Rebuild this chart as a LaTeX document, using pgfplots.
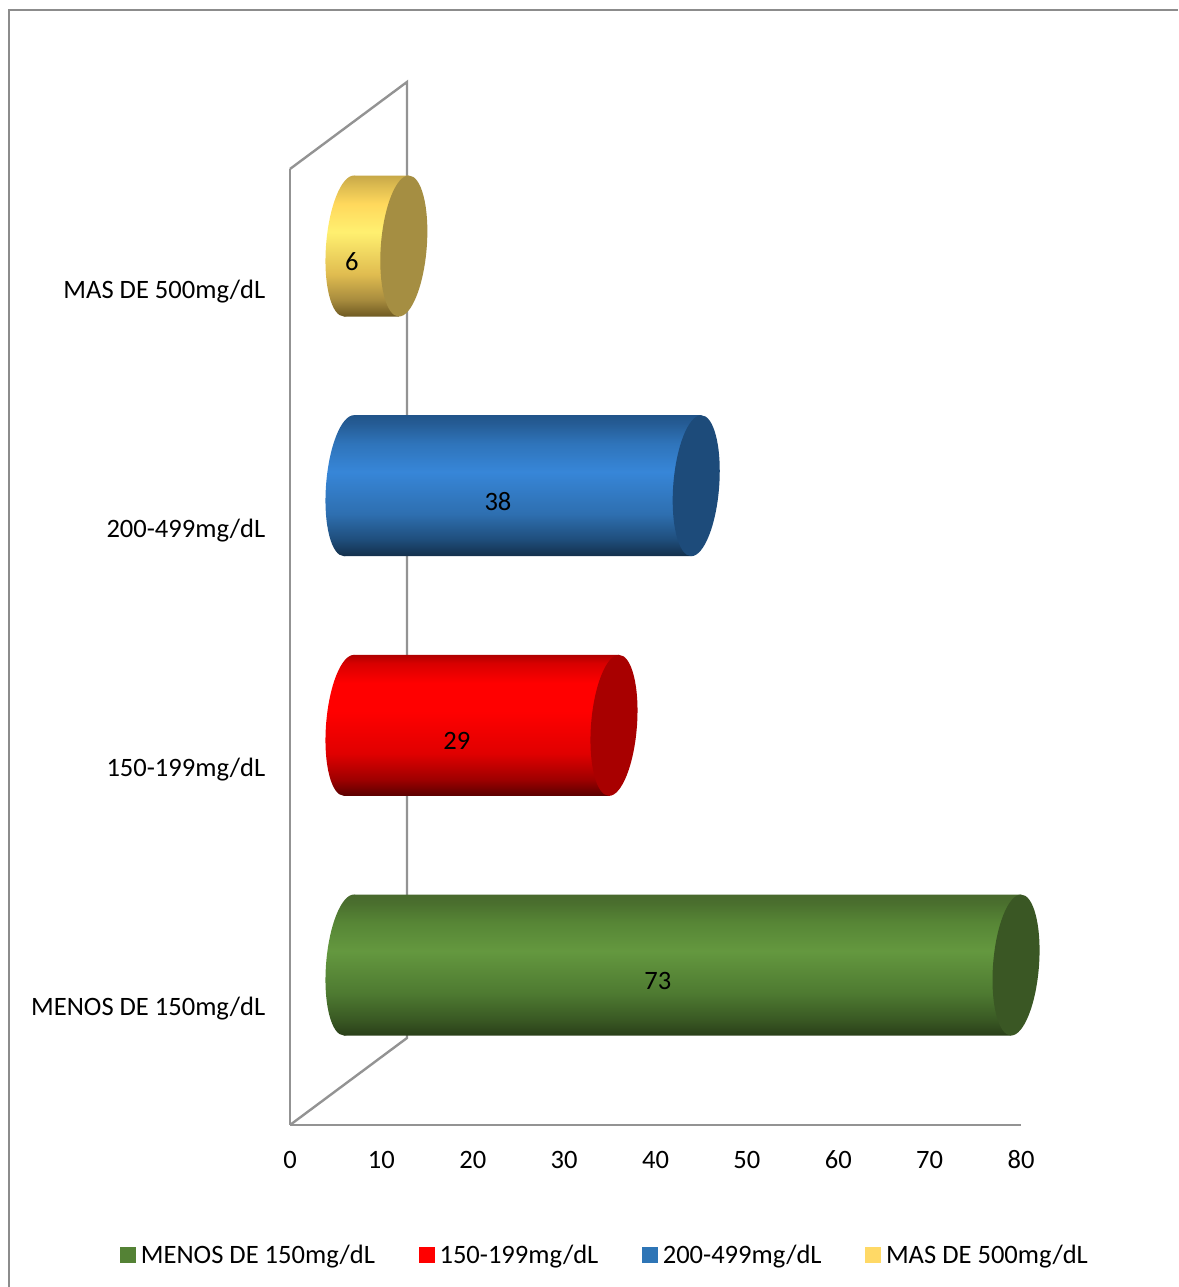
\documentclass[border=0pt]{standalone}
\usepackage{fontspec}
\setmainfont{Carlito}
\usepackage{pgfplots}
\usepackage{pgfplotstable}
\pgfplotsset{compat=1.18}

% Glucose bands: category position, count
\pgfplotstableread{
cat v
0 73
1 29
2 38
3 6
}\glucosedata

\definecolor{wallgray}{HTML}{939393}
\definecolor{framegray}{HTML}{8C8C8C}
\definecolor{capGreen}{HTML}{3A5724}
\definecolor{capRed}{HTML}{A80000}
\definecolor{capBlue}{HTML}{1D4B7A}
\definecolor{capYellow}{HTML}{A58E42}
\definecolor{keyGreen}{HTML}{548235}
\definecolor{keyRed}{HTML}{FF0000}
\definecolor{keyBlue}{HTML}{2E75B6}
\definecolor{keyYellow}{HTML}{FFD966}

\definecolor{gA}{HTML}{2A3F19}\definecolor{gB}{HTML}{3A5A24}\definecolor{gC}{HTML}{4E7A31}
\definecolor{gD}{HTML}{64983F}\definecolor{gE}{HTML}{578636}\definecolor{gF}{HTML}{4A6F2E}\definecolor{gG}{HTML}{48692D}
\definecolor{rA}{HTML}{5A0000}\definecolor{rB}{HTML}{A00000}\definecolor{rC}{HTML}{E00000}
\definecolor{rD}{HTML}{FF0000}\definecolor{rE}{HTML}{FF0000}\definecolor{rF}{HTML}{D80000}\definecolor{rG}{HTML}{B00000}
\definecolor{bA}{HTML}{132F4B}\definecolor{bB}{HTML}{1F4E7C}\definecolor{bC}{HTML}{2E6FB0}
\definecolor{bD}{HTML}{3786D8}\definecolor{bE}{HTML}{2F74BA}\definecolor{bF}{HTML}{255C95}\definecolor{bG}{HTML}{21548A}
\definecolor{yA}{HTML}{6E5A22}\definecolor{yB}{HTML}{A88C3E}\definecolor{yC}{HTML}{E0BC50}
\definecolor{yD}{HTML}{FFF070}\definecolor{yE}{HTML}{FFD85C}\definecolor{yF}{HTML}{D9B84F}\definecolor{yG}{HTML}{C7A848}

% Cylinder side shadings; the stops run from the bottom edge (25bp) to the top edge (75bp)
\newcommand{\declareside}[2]{%
  \pgfdeclareverticalshading{bar#1}{100bp}{
    color(0bp)=(#2A); color(25bp)=(#2A); color(31bp)=(#2B); color(40bp)=(#2C);
    color(55bp)=(#2D); color(65bp)=(#2E); color(72bp)=(#2F); color(75bp)=(#2G);
    color(100bp)=(#2G)}%
  % near end of the cylinder, shaded like its side
  \pgfdeclareplotmark{near#1}{%
    \pgfpathellipse{\pgfpointorigin}{\pgfqpoint{17.25pt}{0pt}}{\pgfqpoint{3.7pt}{52.875pt}}%
    \pgfshadepath{bar#1}{0}\pgfusepath{discard}}%
  % far end of the cylinder, one flat colour
  \pgfdeclareplotmark{far#1}{%
    \pgfsetfillcolor{cap#1}%
    \pgfpathellipse{\pgfpointorigin}{\pgfqpoint{17.25pt}{0pt}}{\pgfqpoint{3.7pt}{52.875pt}}%
    \pgfusepathqfill}%
}
\declareside{Green}{g}\declareside{Red}{r}\declareside{Blue}{b}\declareside{Yellow}{y}

\pgfplotsset{
  planeaxis/.style={scale only axis,width=548.25pt,height=717pt,xmin=0,xmax=80,
    ymin=-0.5,ymax=3.5,clip=false},
  swatch/.style={legend image code/.code={\fill[##1] (0pt,-5.6pt) rectangle (11.25pt,5.6pt);}},
  cyl/.style 2 args={xbar,bar width=105.75pt,bar shift=0pt,draw=none,shade,shading=bar#1,
    xslant=0.07,xshift=#2},
}

\begin{document}
\begin{tikzpicture}[font=\fontsize{19.9pt}{24pt}\selectfont]
\path[use as bounding box] (0,0) rectangle (883.5pt,965.25pt);
\draw[framegray,line width=1.1pt] (6.75pt,0) -- (6.75pt,957.75pt) -- (883.5pt,957.75pt);

% Front plane: scale, category names, wall and legend
\begin{axis}[planeaxis,at={(217.5pt,121.5pt)},anchor=south west,
  axis x line=bottom,axis y line=left,
  axis line style={wallgray,line width=1.8pt,-},
  xtick={0,10,...,80},ytick={0,1,2,3},
  yticklabels={MENOS DE 150mg/dL,150-199mg/dL,200-499mg/dL,MAS DE 500mg/dL},
  major tick length=0pt,
  tick style={draw=none},
  /pgf/number format/assume math mode=true,
  xticklabel style={yshift=-17.25pt,text height=12pt,text depth=0pt},
  yticklabel style={xshift=-15pt,yshift=-2.25pt},
  legend columns=-1,
  legend style={at={(-0.2326,-0.136)},anchor=west,draw=none,fill=none,inner sep=0pt,outer sep=0pt,
    nodes={inner sep=0pt,outer sep=0pt},
    /tikz/every odd column/.append style={column sep=4.1pt},
    /tikz/every even column/.append style={column sep=32.6pt},
    font=\fontsize{19.9pt}{24pt}\selectfont},
]
\draw[wallgray,line width=1.8pt,line join=miter]
  (axis cs:0,-0.5) -- (axis cs:12.8,-0.136) -- (axis cs:12.8,3.864) -- (axis cs:0,3.5);
\addlegendimage{swatch,keyGreen}\addlegendentry{MENOS DE 150mg/dL}
\addlegendimage{swatch,keyRed}\addlegendentry{150-199mg/dL}
\addlegendimage{swatch,keyBlue}\addlegendentry{200-499mg/dL}
\addlegendimage{swatch,keyYellow}\addlegendentry{MAS DE 500mg/dL}
\end{axis}

% Middle depth: the cylinders and their counts
\begin{axis}[planeaxis,height=719pt,at={(261.75pt,151.6pt)},anchor=south west,hide axis]
\addplot[only marks,mark=nearGreen] coordinates {(0,0)};
\addplot[cyl={Green}{-6.29pt}] coordinates {(73,0)};
\addplot[only marks,mark=farGreen] coordinates {(73,0)};

\addplot[only marks,mark=nearRed] coordinates {(0,1)};
\addplot[cyl={Red}{-18.87pt}] coordinates {(29,1)};
\addplot[only marks,mark=farRed] coordinates {(29,1)};

\addplot[only marks,mark=nearBlue] coordinates {(0,2)};
\addplot[cyl={Blue}{-31.45pt}] coordinates {(38,2)};
\addplot[only marks,mark=farBlue] coordinates {(38,2)};

\addplot[only marks,mark=nearYellow] coordinates {(0,3)};
\addplot[cyl={Yellow}{-44.04pt}] coordinates {(6,3)};
\addplot[only marks,mark=farYellow] coordinates {(6,3)};

\addplot[draw=none,mark=none,point meta=\thisrow{v},
  nodes near coords={\pgfmathprintnumber[assume math mode=true]{\pgfplotspointmeta}},
  every node near coord/.append style={anchor=center,xshift=-18.5pt,yshift=-12pt,black,inner sep=0pt}]
  table[x expr=\thisrow{v}/2,y=cat] {\glucosedata};
\end{axis}
\end{tikzpicture}
\end{document}
